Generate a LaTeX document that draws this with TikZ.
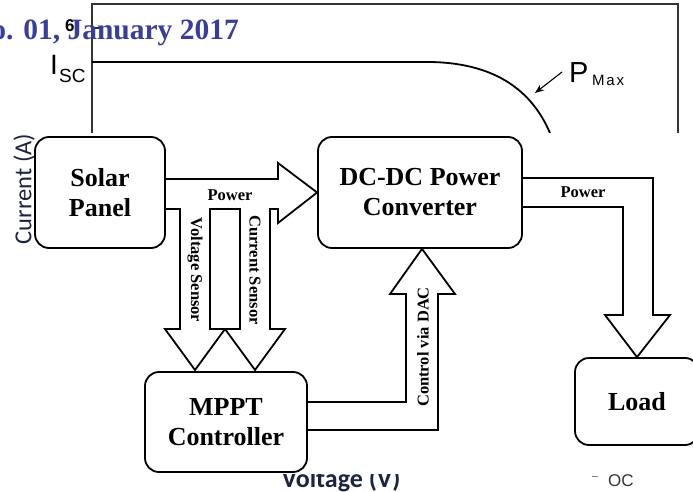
\documentclass[tikz,border=0pt]{standalone}
\usepackage{fontspec}
\setmainfont{Liberation Serif}
\newfontfamily\plotfont{Liberation Sans}
\newfontfamily\plotwide{Liberation Sans}[LetterSpace=12]
\newfontfamily\axisfont{Carlito}
\usetikzlibrary{calc,arrows.meta}
\definecolor{issueblue}{RGB}{58,62,148}
\definecolor{axisnavy}{RGB}{28,36,62}
\newcommand{\setsize}[2]{\fontsize{#1}{#2}\selectfont}
\pgfdeclarelayer{plot}
\pgfdeclarelayer{arrows}
\pgfsetlayers{plot,arrows,main}

\tikzset{
	block/.style={draw, line width=1.8pt, rounded corners=14pt, fill=white, align=center, inner sep=0pt, font=\setsize{26}{30}\bfseries},
	fatarrow/.style={draw, line width=1.8pt, fill=white, line join=miter},
	flowlabel/.style={inner sep=0pt, font=\setsize{16.5}{18}\bfseries},
	plotline/.style={line width=1.1pt, black!80},
	plotlabel/.style={inner sep=0pt, anchor=base west}
}

\begin{document}
\begin{tikzpicture}[x=1pt, y=-1pt]
			%%%%% START %%%%%
			\useasboundingbox (0,0) rectangle (693,492);
			\clip (0,0) rectangle (693,492);
			
			% I-V curve behind the diagram
			\begin{pgfonlayer}{plot}
			\draw[plotline] (92,133) -- (92,4) -- (678,4) -- (678,133);
			\draw[plotline] (92,28) -- (102,28);
			\draw[line width=1.8pt] (92,62) -- (430,62) .. controls (500,63) and (540,95) .. (556,150);
			\node[plotlabel, font=\plotfont\bfseries\setsize{17}{17}] (six) at (65,32) {6};
			\node[plotlabel, font=\plotfont\setsize{28}{28}] (isc) at (50,75) {I};
			\node[plotlabel, font=\plotfont\setsize{19}{19}] (iscsub) at (59,83) {SC};
			\node[plotlabel, font=\plotfont\setsize{29}{29}] (pmax) at (569,83) {P};
			\node[plotlabel, font=\plotwide\setsize{15}{15}] (pmaxsub) at (592,86) {Max};
			\coordinate (knee) at (535,93);
			\draw[line width=1.1pt, -{Stealth[length=9pt,width=7pt]}] (562,72) -- (knee);
			\node[plotlabel, font=\axisfont\bfseries\setsize{26}{26}, anchor=base, axisnavy] (vlabel) at (341,487) {Voltage (V)};
			\node[plotlabel, font=\plotfont\setsize{17}{17}, black!80] (voc) at (608,486) {OC};
			\draw[black!50, line width=0.8pt] (592,476) -- (598,476);
			
			% issue line
			\node[inner sep=0pt, anchor=base east, issueblue, font=\bfseries\setsize{29.5}{30}] (issue) at (239,40) {o. 01, January 2017};
			
			% diagram sheet
			\fill[white] (40,133) rectangle (693,474);
			\node[inner sep=0pt, rotate=90, axisnavy, font=\axisfont\setsize{24.5}{25}] (ilabel) at (24,189) {Current (A)};
			\end{pgfonlayer}
			
			% boxes
			\node[block, minimum width=130pt, minimum height=111pt] (solar) at (100,192.5) {Solar\\Panel};
			\node[block, minimum width=204pt, minimum height=111pt] (dcdc) at (420,192.5) {DC-DC Power\\Converter};
			\node[block, minimum width=162pt, minimum height=100pt] (mppt) at (226,422) {MPPT\\Controller};
			\node[block, minimum width=124pt, minimum height=87pt] (load) at (637,401.5) {Load};
			
			\begin{pgfonlayer}{arrows}
			% power from the panel, with the two sensor taps
			\draw[fatarrow] ($(solar.east)+(0,-13.5)$) -- (278,179) -- (278,163) -- (dcdc.west) -- (278,223) -- (278,209)
				-- (270,209) -- (270,329) -- (285,329) -- (255,370) -- (225,329) -- (195,370) -- (165,329) -- (180,329)
				-- (180,209) -- ($(solar.east)+(0,16.5)$);
			\draw[fatarrow] (210,209) -- (210,329) -- (240,329) -- (240,209) -- cycle;
			\node[flowlabel] (plabel) at (230,195) {Power};
			\node[flowlabel, rotate=-90] (vsense) at (195,270) {Voltage Sensor};
			\node[flowlabel, rotate=-90] (csense) at (255,270) {Current Sensor};
			
			% power to the load
			\draw[fatarrow] ($(dcdc.east)+(0,-14.5)$) -- (653,178) -- (653,315) -- (670,315) -- (load.north) -- (605,315) -- (623,315)
				-- (623,207) -- ($(dcdc.east)+(0,14.5)$);
			\node[flowlabel] (olabel) at (583,192) {Power};
			
			% control back to the converter
			\draw[fatarrow] ($(mppt.east)+(0,8)$) -- (438,430) -- (438,294) -- (455,294) -- ($(dcdc.south)+(2,0)$) -- (390,294) -- (406,294)
				-- (406,402) -- ($(mppt.east)+(0,-20)$);
			\node[flowlabel, rotate=90] (dac) at (423,347) {Control via DAC};
			\end{pgfonlayer}
			%%%%% END %%%%%
\end{tikzpicture}
\end{document}
